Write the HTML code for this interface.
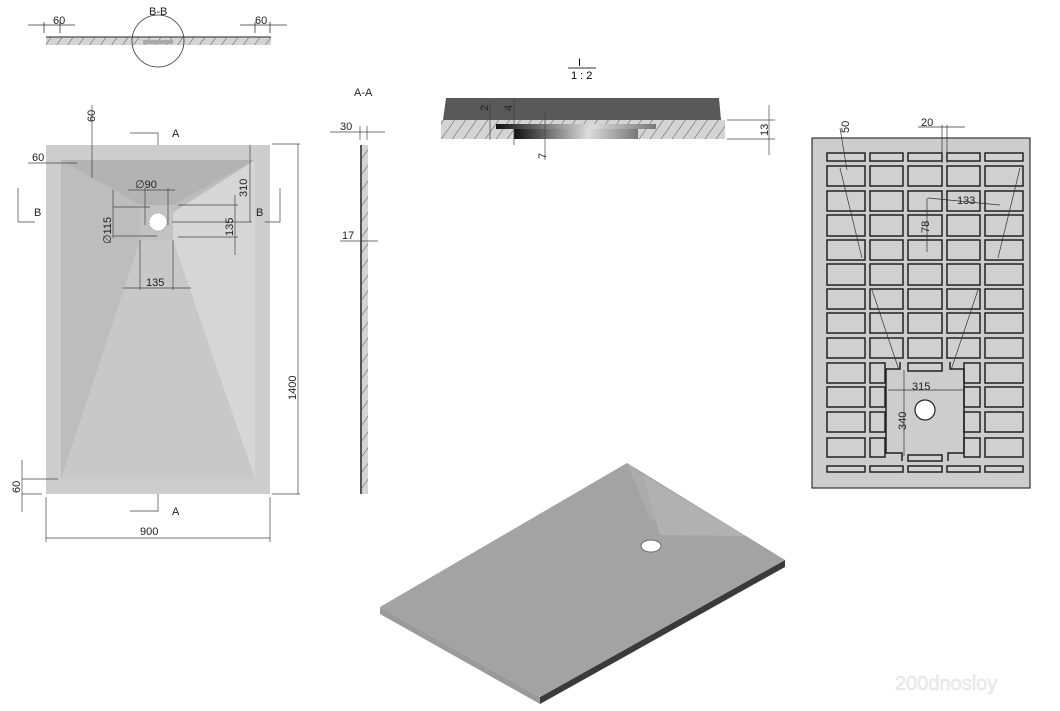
<!DOCTYPE html>
<html><head><meta charset="utf-8"><style>
html,body{margin:0;padding:0;background:#fff;}
svg{display:block;font-family:"Liberation Sans",sans-serif;}
</style></head><body>
<svg width="1060" height="711" viewBox="0 0 1060 711" xmlns="http://www.w3.org/2000/svg">
<defs>
<pattern id="h" patternUnits="userSpaceOnUse" width="9" height="9" patternTransform="rotate(35)">
<rect width="9" height="9" fill="#d4d4d4"/><line x1="0" y1="0" x2="0" y2="9" stroke="#555" stroke-width="1"/></pattern>
<linearGradient id="g" x1="0" x2="1"><stop offset="0" stop-color="#111"/><stop offset=".6" stop-color="#ddd"/><stop offset="1" stop-color="#777"/></linearGradient>
</defs>
<g stroke="#333" stroke-width="0.8" fill="none">
<rect x="46" y="37" width="225" height="8" fill="url(#h)" stroke="none"/>
<line x1="46" y1="37" x2="271" y2="37" stroke="#666" stroke-width="1.5"/>
<rect x="143" y="40" width="30" height="4" fill="#aaa" stroke="none"/>
<circle cx="158" cy="41" r="26"/>
<line x1="28" y1="25" x2="75" y2="25"/><line x1="44" y1="22" x2="44" y2="33"/><line x1="60" y1="22" x2="60" y2="33"/>
<line x1="240" y1="25" x2="287" y2="25"/><line x1="255" y1="22" x2="255" y2="33"/><line x1="270" y1="22" x2="270" y2="33"/>
</g>
<g font-size="11" fill="#222">
<text x="53" y="24">60</text><text x="255" y="24">60</text><text x="149" y="15">B-B</text>
</g>
<rect x="46" y="145" width="224" height="349" fill="#cdcdcd"/>
<rect x="61" y="160" width="194" height="319" fill="#bdbdbd"/>
<polygon points="158,222 255,160 255,479 190,479" fill="#d6d6d6"/>
<polygon points="61,160 255,160 173,205 140,205" fill="#b3b3b3"/>
<polygon points="140,240 173,240 255,479 61,479" fill="#c8c8c8"/>
<polygon points="140,205 173,205 173,240 140,240" fill="#c2c2c2"/>
<circle cx="158" cy="222" r="9" fill="#fff" stroke="#999" stroke-dasharray="1,1"/>
<g stroke="#444" stroke-width="0.7" fill="none">
<line x1="298" y1="144" x2="298" y2="494"/><line x1="272" y1="144" x2="300" y2="144"/><line x1="272" y1="494" x2="300" y2="494"/>
<line x1="46" y1="497" x2="46" y2="542"/><line x1="270" y1="497" x2="270" y2="542"/><line x1="46" y1="538" x2="270" y2="538"/>
<line x1="92" y1="105" x2="92" y2="178"/><line x1="28" y1="163" x2="77" y2="163"/>
<line x1="22" y1="460" x2="22" y2="512"/><line x1="22" y1="479" x2="58" y2="479"/><line x1="22" y1="494" x2="42" y2="494"/>
<line x1="250" y1="145" x2="250" y2="222"/><line x1="172" y1="222" x2="252" y2="222"/>
<line x1="235" y1="195" x2="235" y2="255"/><line x1="178" y1="205" x2="238" y2="205"/><line x1="178" y1="237" x2="238" y2="237"/>
<line x1="128" y1="190" x2="175" y2="190"/><line x1="145" y1="188" x2="145" y2="225"/><line x1="168" y1="188" x2="168" y2="225"/>
<line x1="113" y1="190" x2="113" y2="238"/><line x1="113" y1="207" x2="150" y2="207"/><line x1="113" y1="236" x2="157" y2="236"/>
<line x1="123" y1="288" x2="191" y2="288"/><line x1="140" y1="240" x2="140" y2="290"/><line x1="173" y1="240" x2="173" y2="290"/>
<polyline points="158,145 158,133 130,133"/><polyline points="158,494 158,511 130,511"/>
<polyline points="18,188 18,222 35,222"/><polyline points="280,188 280,222 265,222"/>
</g>
<g font-size="11" fill="#222">
<text x="172" y="137">A</text><text x="172" y="515">A</text><text x="34" y="216">B</text><text x="256" y="216">B</text>
<text x="140" y="538" dy="-3">900</text>
<text transform="translate(296,400) rotate(-90)">1400</text>
<text transform="translate(95,122) rotate(-90)">60</text><text x="32" y="161">60</text>
<text transform="translate(20,493) rotate(-90)">60</text>
<text transform="translate(247,197) rotate(-90)">310</text>
<text transform="translate(233,236) rotate(-90)">135</text>
<text x="135" y="188">∅90</text>
<text transform="translate(111,244) rotate(-90)">∅115</text>
<text x="146" y="286">135</text>
</g>
<rect x="361" y="145" width="7" height="349" fill="url(#h)"/>
<line x1="361" y1="145" x2="361" y2="494" stroke="#555" stroke-width="2"/>
<g stroke="#444" stroke-width="0.7"><line x1="330" y1="132" x2="385" y2="132"/><line x1="360" y1="126" x2="360" y2="140"/><line x1="367" y1="126" x2="367" y2="140"/><line x1="340" y1="241" x2="378" y2="241"/></g>
<g font-size="11" fill="#222"><text x="354" y="96">A-A</text><text x="340" y="130">30</text><text x="342" y="239">17</text></g>
<text x="578" y="66" font-size="11">I</text><line x1="568" y1="68" x2="596" y2="68" stroke="#333"/>
<text x="571" y="79" font-size="11">1 : 2</text>
<polygon points="446,98 719,98 721,120 443,120" fill="#595959"/>
<rect x="441" y="120" width="284" height="19" fill="url(#h)"/>
<rect x="496" y="124" width="160" height="5" fill="url(#g)"/>
<rect x="514" y="129" width="124" height="10" fill="url(#g)"/>
<g stroke="#444" stroke-width="0.7"><line x1="490" y1="102" x2="490" y2="140"/><line x1="514" y1="98" x2="514" y2="145"/><line x1="545" y1="112" x2="545" y2="160"/><line x1="727" y1="120" x2="775" y2="120"/><line x1="727" y1="139" x2="775" y2="139"/><line x1="769" y1="105" x2="769" y2="155"/></g>
<g font-size="11" fill="#222"><text transform="translate(488,111) rotate(-90)">2</text><text transform="translate(512,111) rotate(-90)">4</text><text transform="translate(546,159) rotate(-90)">7</text><text transform="translate(768,136) rotate(-90)">13</text></g>
<rect x="812" y="138" width="218" height="350" fill="#cdcdcd" stroke="#333" stroke-width="1.2"/>
<g fill="#d2d2d2" stroke="#222" stroke-width="1.5">
<rect x="827" y="153" width="38" height="8"/><rect x="870" y="153" width="33" height="8"/><rect x="908" y="153" width="34" height="8"/><rect x="947" y="153" width="33" height="8"/><rect x="985" y="153" width="38" height="8"/>
<rect x="827" y="466" width="38" height="6"/><rect x="870" y="466" width="33" height="6"/><rect x="908" y="466" width="34" height="6"/><rect x="947" y="466" width="33" height="6"/><rect x="985" y="466" width="38" height="6"/>
</g>
<g fill="#d0d0d0" stroke="#222" stroke-width="1.5">
<rect x="827" y="166" width="38" height="20"/><rect x="870" y="166" width="33" height="20"/><rect x="908" y="166" width="34" height="20"/><rect x="947" y="166" width="33" height="20"/><rect x="985" y="166" width="38" height="20"/>
<rect x="827" y="191" width="38" height="20"/><rect x="870" y="191" width="33" height="20"/><rect x="908" y="191" width="34" height="20"/><rect x="947" y="191" width="33" height="20"/><rect x="985" y="191" width="38" height="20"/>
<rect x="827" y="215" width="38" height="21"/><rect x="870" y="215" width="33" height="21"/><rect x="908" y="215" width="34" height="21"/><rect x="947" y="215" width="33" height="21"/><rect x="985" y="215" width="38" height="21"/>
<rect x="827" y="240" width="38" height="20"/><rect x="870" y="240" width="33" height="20"/><rect x="908" y="240" width="34" height="20"/><rect x="947" y="240" width="33" height="20"/><rect x="985" y="240" width="38" height="20"/>
<rect x="827" y="264" width="38" height="21"/><rect x="870" y="264" width="33" height="21"/><rect x="908" y="264" width="34" height="21"/><rect x="947" y="264" width="33" height="21"/><rect x="985" y="264" width="38" height="21"/>
<rect x="827" y="289" width="38" height="20"/><rect x="870" y="289" width="33" height="20"/><rect x="908" y="289" width="34" height="20"/><rect x="947" y="289" width="33" height="20"/><rect x="985" y="289" width="38" height="20"/>
<rect x="827" y="313" width="38" height="20"/><rect x="870" y="313" width="33" height="20"/><rect x="908" y="313" width="34" height="20"/><rect x="947" y="313" width="33" height="20"/><rect x="985" y="313" width="38" height="20"/>
<rect x="827" y="338" width="38" height="20"/><rect x="870" y="338" width="33" height="20"/><rect x="908" y="338" width="34" height="20"/><rect x="947" y="338" width="33" height="20"/><rect x="985" y="338" width="38" height="20"/>
<rect x="827" y="363" width="38" height="20"/><rect x="870" y="363" width="15" height="20"/><rect x="908" y="363" width="34" height="8"/><rect x="964" y="363" width="16" height="20"/><rect x="985" y="363" width="38" height="20"/>
<rect x="827" y="387" width="38" height="20"/><rect x="870" y="387" width="15" height="20"/><rect x="964" y="387" width="16" height="20"/><rect x="985" y="387" width="38" height="20"/>
<rect x="827" y="412" width="38" height="20"/><rect x="870" y="412" width="15" height="20"/><rect x="964" y="412" width="16" height="20"/><rect x="985" y="412" width="38" height="20"/>
<rect x="827" y="438" width="38" height="19"/><rect x="870" y="438" width="15" height="19"/><rect x="908" y="455" width="34" height="6"/><rect x="964" y="438" width="16" height="19"/><rect x="985" y="438" width="38" height="19"/>
</g>
<g stroke="#222" stroke-width="1.5" fill="none">
<polyline points="900,362 900,369 886,369 886,453 902,453 902,461"/>
<polyline points="950,362 950,369 964,369 964,453 948,453 948,461"/>
</g>
<circle cx="925" cy="410" r="10" fill="#fff" stroke="#222" stroke-width="1.2"/>
<g stroke="#333" stroke-width="0.7"><line x1="840" y1="128" x2="847" y2="170"/><line x1="918" y1="127" x2="965" y2="127"/><line x1="942" y1="125" x2="942" y2="163"/><line x1="947" y1="125" x2="947" y2="163"/>
<line x1="928" y1="198" x2="1000" y2="205"/><line x1="927" y1="198" x2="927" y2="252"/><line x1="888" y1="390" x2="965" y2="390"/><line x1="904" y1="370" x2="904" y2="456"/>
<line x1="840" y1="168" x2="862" y2="258"/><line x1="1020" y1="168" x2="998" y2="258"/><line x1="872" y1="290" x2="899" y2="370"/><line x1="978" y1="290" x2="951" y2="370"/></g>
<g font-size="11" fill="#222"><text transform="translate(849,133) rotate(-90)">50</text><text x="921" y="126">20</text><text x="957" y="204">133</text><text transform="translate(929,233) rotate(-90)">78</text><text x="912" y="390">315</text><text transform="translate(906,430) rotate(-90)">340</text></g>
<polygon points="380,607 540,697 540,704 380,614" fill="#9a9a9a"/>
<polygon points="540,697 785,560 785,567 540,704" fill="#3a3a3a"/>
<polygon points="380,607 627,463 785,560 540,697" fill="#a3a3a3"/>
<polygon points="627,463 642,474 745,536 650,520" fill="#ababab"/>
<polygon points="642,474 660,535 745,536" fill="#b1b1b1"/>
<ellipse cx="651" cy="546" rx="10" ry="6" fill="#fff" stroke="#666"/>
<text x="895" y="690" font-size="20" fill="#f0f0f0" stroke="#ddd" stroke-width=".5">200dnosloy</text>
</svg>
</body></html>
